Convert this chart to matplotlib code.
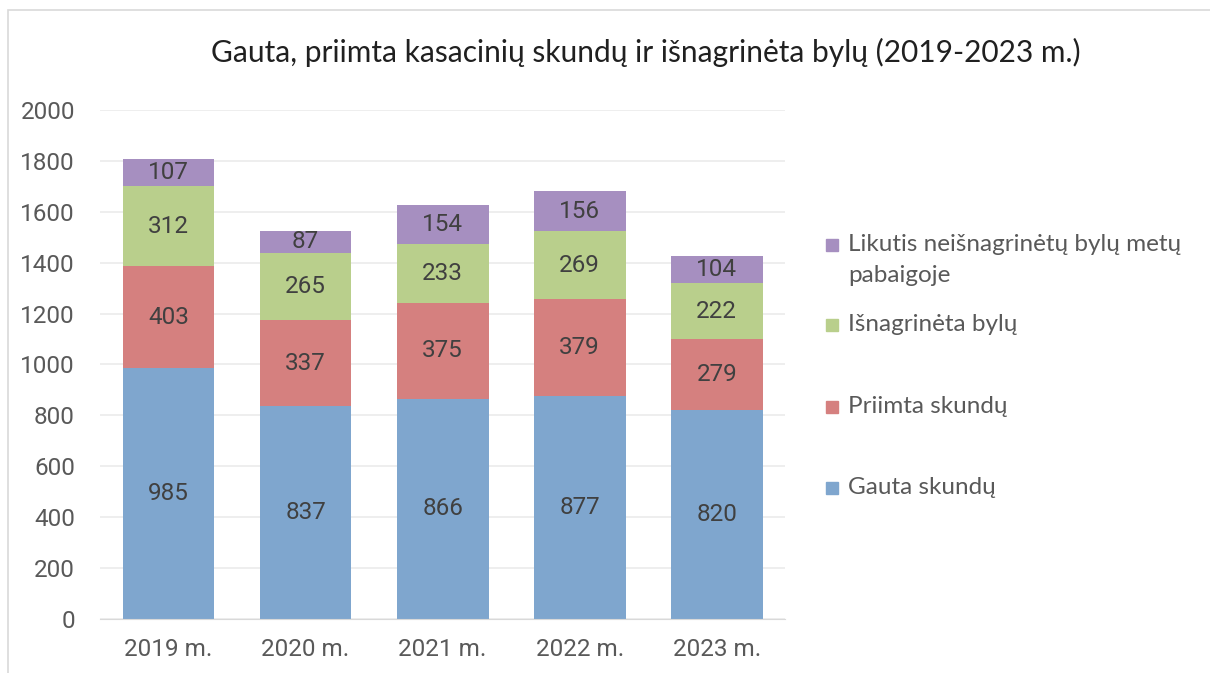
import matplotlib.pyplot as plt
from matplotlib.patches import Rectangle

# data
years = ["2019 m.", "2020 m.", "2021 m.", "2022 m.", "2023 m."]
gauta = [985, 837, 866, 877, 820]
priimta = [403, 337, 375, 379, 279]
isnagrineta = [312, 265, 233, 269, 222]
likutis = [107, 87, 154, 156, 104]

series = [
    ("Gauta skundų", gauta, "#7FA6CE"),
    ("Priimta skundų", priimta, "#D5807F"),
    ("Išnagrinėta bylų", isnagrineta, "#B9CF8C"),
    ("Likutis neišnagrinėtų bylų metų\npabaigoje", likutis, "#A68FC0"),
]

plt.rcParams['font.family'] = ['Lato', 'DejaVu Sans']

fig = plt.figure(figsize=(12.1, 6.73), dpi=100)
ax = fig.add_axes([0.0826, 0.0802, 0.5664, 0.7564])

x = range(len(years))
bottom = [0] * len(years)
for name, vals, col in series:
    ax.bar(x, vals, bottom=bottom, width=0.67, color=col, label=name, zorder=2)
    for i, v in enumerate(vals):
        ax.text(i, bottom[i] + v / 2, str(v), ha="center", va="center",
                fontsize=17.5, color="#404040", family="Roboto", zorder=3)
    bottom = [b + v for b, v in zip(bottom, vals)]

ax.set_ylim(0, 2000)
ax.set_xlim(-0.5, 4.5)
ax.set_yticks(range(0, 2001, 200))
ax.set_xticks(list(x))
ax.set_xticklabels(years)
ax.tick_params(axis="both", length=0, labelsize=17.5, labelcolor="#595959")
ax.tick_params(axis="y", pad=18)
ax.tick_params(axis="x", pad=14)
for lab in ax.get_xticklabels() + ax.get_yticklabels():
    lab.set_family("Roboto")
ax.grid(axis="y", color="#EBEBEB", linewidth=1.2, zorder=0)
for s in ["top", "right", "left"]:
    ax.spines[s].set_visible(False)
ax.spines["bottom"].set_color("#D9D9D9")

fig.text(0.534, 0.922, "Gauta, priimta kasacinių skundų ir išnagrinėta bylų (2019-2023 m.)",
         ha="center", va="center", fontsize=21.5, color="#202020")

# legend laid out by hand, Excel-style uneven spacing (top entry first)
leg_y = [0.636, 0.5171, 0.3952, 0.2749]
for (name, vals, col), y in zip(series[::-1], leg_y):
    fig.patches.append(Rectangle((0.6826, y - 0.0089), 0.0099, 0.0178,
                                 transform=fig.transFigure, color=col))
    fig.text(0.7008, y + 0.0005, name.split("\n")[0], ha="left", va="center",
             fontsize=17.5, color="#595959")
    if "\n" in name:
        fig.text(0.7008, y - 0.0461, name.split("\n")[1], ha="left", va="center",
                 fontsize=17.5, color="#595959")

fig.patches.append(Rectangle((0.0066, -0.01), 1.0, 0.995, transform=fig.transFigure,
                             fill=False, edgecolor="#D9D9D9", linewidth=1.2))

fig.savefig("out.png", dpi=100)
